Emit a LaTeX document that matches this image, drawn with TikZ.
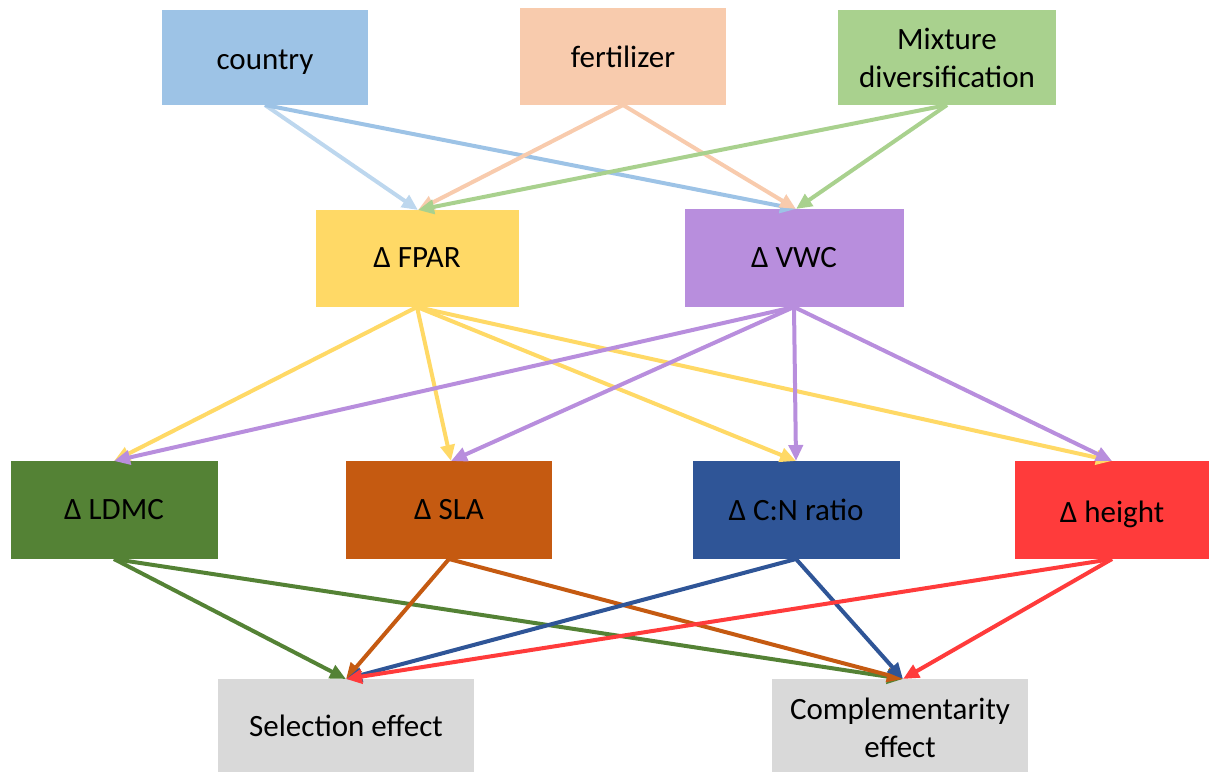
\documentclass[tikz,border=0pt]{standalone}
\usepackage{fontspec}
\setmainfont{Carlito}
\usetikzlibrary{arrows.meta}
\definecolor{cCountry}{HTML}{9DC3E6}
\definecolor{cCountryL}{HTML}{BDD7EE}
\definecolor{cFert}{HTML}{F8CBAD}
\definecolor{cMix}{HTML}{A9D18E}
\definecolor{cFPAR}{HTML}{FFD966}
\definecolor{cVWC}{HTML}{B88EDD}
\definecolor{cLDMC}{HTML}{548235}
\definecolor{cSLA}{HTML}{C55A11}
\definecolor{cCN}{HTML}{2F5597}
\definecolor{cHeight}{HTML}{FF3B3B}
\definecolor{cEff}{HTML}{D9D9D9}
\begin{document}
\begin{tikzpicture}[x=1pt,y=-1pt,
  box/.style={inner sep=0pt,align=center,font=\fontsize{31}{38}\selectfont,text=black},
  arr/.style={line width=4pt,-{Triangle[length=16pt,width=14pt]}}]
\useasboundingbox (0,0) rectangle (1209,772);
% boxes
\fill[cCountry] (162,10) rectangle (368,105);
\node[box,text depth=0pt] (country) at (265,60) {country};
\fill[cFert] (520,8) rectangle (726,105);
\node[box] (fert) at (623,56.5) {fertilizer};
\fill[cMix] (838,10) rectangle (1056,105);
\node[box] (mix) at (947,58) {Mixture\\diversification};
\fill[cFPAR] (316,210) rectangle (519,307);
\node[box] (fpar) at (417,258) {Δ FPAR};
\fill[cVWC] (685,209) rectangle (904,307);
\node[box] (vwc) at (794,258) {Δ VWC};
\fill[cLDMC] (11,461) rectangle (218,559);
\node[box] (ldmc) at (114,510) {Δ LDMC};
\fill[cSLA] (346,461) rectangle (552,559);
\node[box] (sla) at (449,510) {Δ SLA};
\fill[cCN] (693,461) rectangle (900,559);
\node[box] (cn) at (796,510) {Δ C:N ratio};
\fill[cHeight] (1015,461) rectangle (1209,559);
\node[box,text depth=0pt] (height) at (1112,512) {Δ height};
\fill[cEff] (218,679) rectangle (474,772);
\node[box] (sel) at (346,725.5) {Selection effect};
\fill[cEff] (772,679) rectangle (1028,772);
\node[box] (comp) at (900,728) {Complementarity\\effect};
% anchor coordinates
\coordinate (countryB) at (265,105);
\coordinate (fertB) at (623,105);
\coordinate (mixB) at (947,105);
\coordinate (fparT) at (418,210);
\coordinate (vwcT) at (796,209);
\coordinate (fparB) at (417,307);
\coordinate (vwcB) at (794,307);
\coordinate (ldmcT) at (114,461);
\coordinate (slaT) at (451,461);
\coordinate (cnT) at (796,461);
\coordinate (heightT) at (1112,461);
\coordinate (ldmcB) at (114,559);
\coordinate (slaB) at (449,559);
\coordinate (cnB) at (796,559);
\coordinate (heightB) at (1112,559);
\coordinate (selT) at (346,679);
\coordinate (compT) at (903,679);
% connectors
\draw[arr,cCountryL] (countryB) -- (fparT);
\draw[arr,cCountry] (countryB) -- (vwcT);
\draw[arr,cFert] (fertB) -- (fparT);
\draw[arr,cFert] (fertB) -- (vwcT);
\draw[arr,cMix] (mixB) -- (fparT);
\draw[arr,cMix] (mixB) -- (vwcT);
\draw[arr,cFPAR] (fparB) -- (ldmcT);
\draw[arr,cFPAR] (fparB) -- (slaT);
\draw[arr,cFPAR] (fparB) -- (cnT);
\draw[arr,cFPAR] (fparB) -- (heightT);
\draw[arr,cVWC] (vwcB) -- (ldmcT);
\draw[arr,cVWC] (vwcB) -- (slaT);
\draw[arr,cVWC] (vwcB) -- (cnT);
\draw[arr,cVWC] (vwcB) -- (heightT);
\draw[arr,cLDMC] (ldmcB) -- (selT);
\draw[arr,cLDMC] (ldmcB) -- (compT);
\draw[arr,cSLA] (slaB) -- (selT);
\draw[arr,cSLA] (slaB) -- (compT);
\draw[arr,cCN] (cnB) -- (selT);
\draw[arr,cCN] (cnB) -- (compT);
\draw[arr,cHeight] (heightB) -- (selT);
\draw[arr,cHeight] (heightB) -- (compT);
\end{tikzpicture}
\end{document}
